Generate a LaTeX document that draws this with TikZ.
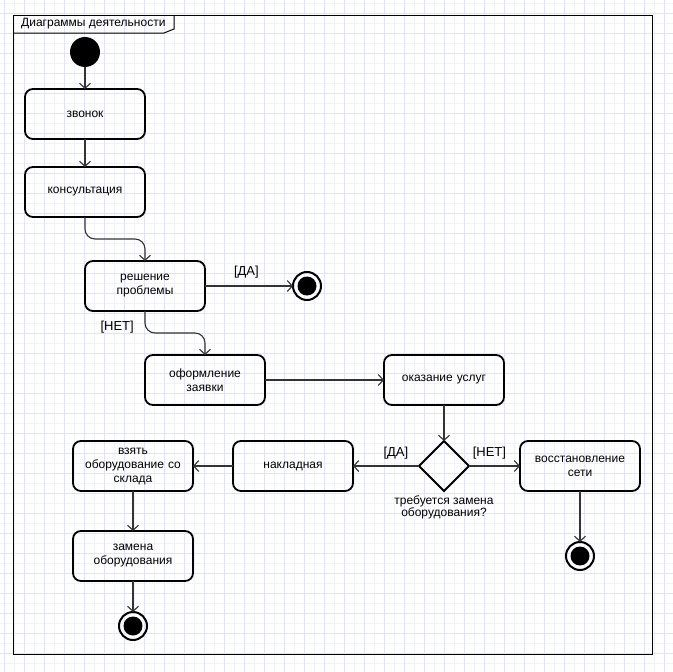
\documentclass[tikz,border=0pt]{standalone}
\usepackage{fontspec}
\setmainfont{Liberation Sans}
\usetikzlibrary{positioning,shapes.geometric,arrows.meta}
\definecolor{gridmajor}{RGB}{225,225,249}
\definecolor{gridminor}{RGB}{241,241,251}
\definecolor{flowgray}{RGB}{51,51,51}

\begin{document}
\begin{tikzpicture}[x=1pt, y=-1pt, node distance=28pt,
  every node/.style={font=\fontsize{12}{14}\selectfont},
  activity/.style={draw, line width=1.8pt, rounded corners=8pt, minimum width=120pt, minimum height=50pt, text width=112pt, align=center, inner sep=0pt, outer sep=0pt},
  startdot/.style={circle, fill=black, minimum size=30pt, inner sep=0pt, outer sep=0pt},
  enddot/.style={circle, draw, line width=2pt, minimum size=28pt, inner sep=0pt, outer sep=0pt, path picture={\fill[black] (path picture bounding box.center) circle (9.5pt);}},
  choice/.style={diamond, draw, line width=1.8pt, minimum size=50pt, inner sep=0pt, outer sep=0pt},
  guard/.style={inner sep=1pt, font=\fontsize{13}{15}\selectfont},
  flow/.style={-{Straight Barb[length=5pt,width=11pt]}, line width=1.1pt, draw=flowgray}]
\useasboundingbox (0,0) rectangle (673,672);
% background grid
\foreach \x in {14,34,...,672} \draw[gridminor] (\x,0) -- (\x,672);
\foreach \y in {3,23,...,672} \draw[gridminor] (0,\y) -- (673,\y);
\foreach \x in {4,24,...,672} \draw[gridmajor] (\x,0) -- (\x,672);
\foreach \y in {13,33,...,672} \draw[gridmajor] (0,\y) -- (673,\y);
% frame
\draw[line width=1pt] (13,15) rectangle (652,654);
\draw[line width=1pt] (13,33) -- (164,33) -- (174,29) -- (174,15);
\node (title) [anchor=west, inner sep=0pt] at (21,24) {Диаграммы деятельности};

\node (start) [startdot] at (85,52) {};
\node (zvonok) [activity, below=22pt of start] {звонок};
\node (konsult) [activity, below=28pt of zvonok] {консультация};
\node (reshenie) [activity, below=44pt of konsult, xshift=60pt] {решение\\проблемы};
\node (end1) [enddot, right=88pt of reshenie] {};
\node (zayavka) [activity, below=44pt of reshenie, xshift=60pt] {оформление\\заявки};
\node (uslugi) [activity, right=119pt of zayavka] {оказание услуг};
\node (vybor) [choice, below=36pt of uslugi] {};
\node (vopros) [below=1pt of vybor, align=center, font=\fontsize{12}{12.5}\selectfont] {требуется замена\\оборудования?};
\node (nakladnaya) [activity, left=66pt of vybor] {накладная};
\node (sklad) [activity, left=40pt of nakladnaya] {взять\\оборудование со\\склада};
\node (vosst) [activity, right=51pt of vybor] {восстановление\\сети};
\node (zamena) [activity, below=40pt of sklad] {замена\\оборудования};
\node (end2) [enddot, below=31pt of zamena] {};
\node (end3) [enddot, below=51pt of vosst] {};
\node (net1) [guard, below left=9pt and 10pt of reshenie.south] {[НЕТ]};

\draw[flow] (start) -- (zvonok);
\draw[flow] (zvonok) -- (konsult);
\draw[flow, rounded corners=10pt] (konsult.south) -- ++(0,22) -| (reshenie.north);
\draw[flow] (reshenie) -- node (da1) [guard, above=6pt, pos=0.47] {[ДА]} (end1);
\draw[flow, rounded corners=10pt] (reshenie.south) -- ++(0,22) -| (zayavka.north);
\draw[flow] (zayavka) -- (uslugi);
\draw[flow] (uslugi) -- (vybor);
\draw[flow] (vybor) -- node (da2) [guard, above=5pt, pos=0.35] {[ДА]} (nakladnaya);
\draw[flow] (vybor) -- node (net2) [guard, above=5pt, pos=0.4] {[НЕТ]} (vosst);
\draw[flow] (nakladnaya) -- (sklad);
\draw[flow] (sklad) -- (zamena);
\draw[flow] (zamena) -- (end2);
\draw[flow] (vosst) -- (end3);
\end{tikzpicture}
\end{document}
